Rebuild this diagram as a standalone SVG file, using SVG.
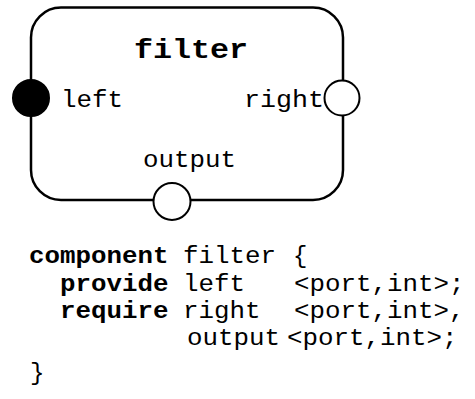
<svg xmlns="http://www.w3.org/2000/svg" width="475" height="399" viewBox="0 0 475 399">
<style>
.box{fill:#fff;stroke:#000;stroke-width:2.5}
.open{fill:#fff;stroke:#000;stroke-width:2}
.filled{fill:#000;stroke:#000;stroke-width:2}
.t{font-family:"Liberation Mono","Courier New",monospace;font-size:24px;fill:#000}
.b{font-weight:bold}
</style>
<rect width="475" height="399" fill="#fff"/>
<g id="connectors"/>
<g id="filter">
<rect class="box" x="31" y="7.5" width="312" height="192.5" rx="30" ry="30"/>
<text class="t b" x="134" y="58" style="font-size:28px" textLength="114" lengthAdjust="spacingAndGlyphs">filter</text>
</g>
<g id="port-left">
<circle class="filled" cx="31" cy="98" r="18"/>
<text class="t" x="61" y="107" textLength="62" lengthAdjust="spacingAndGlyphs">left</text>
</g>
<g id="port-right">
<circle class="open" cx="342" cy="98" r="17.5"/>
<text class="t" x="244" y="107" textLength="80" lengthAdjust="spacingAndGlyphs">right</text>
</g>
<g id="port-output">
<circle class="open" cx="172" cy="201.5" r="18.5"/>
<text class="t" x="143" y="167" textLength="93" lengthAdjust="spacingAndGlyphs">output</text>
</g>
<g id="code">
<text class="t b" x="29" y="263" textLength="139.5" lengthAdjust="spacingAndGlyphs">component</text>
<text class="t" x="183" y="263" textLength="93" lengthAdjust="spacingAndGlyphs">filter</text>
<text class="t" x="293" y="263">{</text>
<text class="t b" x="60" y="291" textLength="108.5" lengthAdjust="spacingAndGlyphs">provide</text>
<text class="t" x="183" y="291" textLength="62" lengthAdjust="spacingAndGlyphs">left</text>
<text class="t" x="294" y="291" textLength="170.5" lengthAdjust="spacingAndGlyphs">&lt;port,int&gt;;</text>
<text class="t b" x="60" y="318" textLength="108.5" lengthAdjust="spacingAndGlyphs">require</text>
<text class="t" x="183" y="318" textLength="77.5" lengthAdjust="spacingAndGlyphs">right</text>
<text class="t" x="294" y="318" textLength="170.5" lengthAdjust="spacingAndGlyphs">&lt;port,int&gt;,</text>
<text class="t" x="187" y="345" textLength="93" lengthAdjust="spacingAndGlyphs">output</text>
<text class="t" x="287" y="345" textLength="170.5" lengthAdjust="spacingAndGlyphs">&lt;port,int&gt;;</text>
<text class="t" x="30" y="380">}</text>
</g>
</svg>
